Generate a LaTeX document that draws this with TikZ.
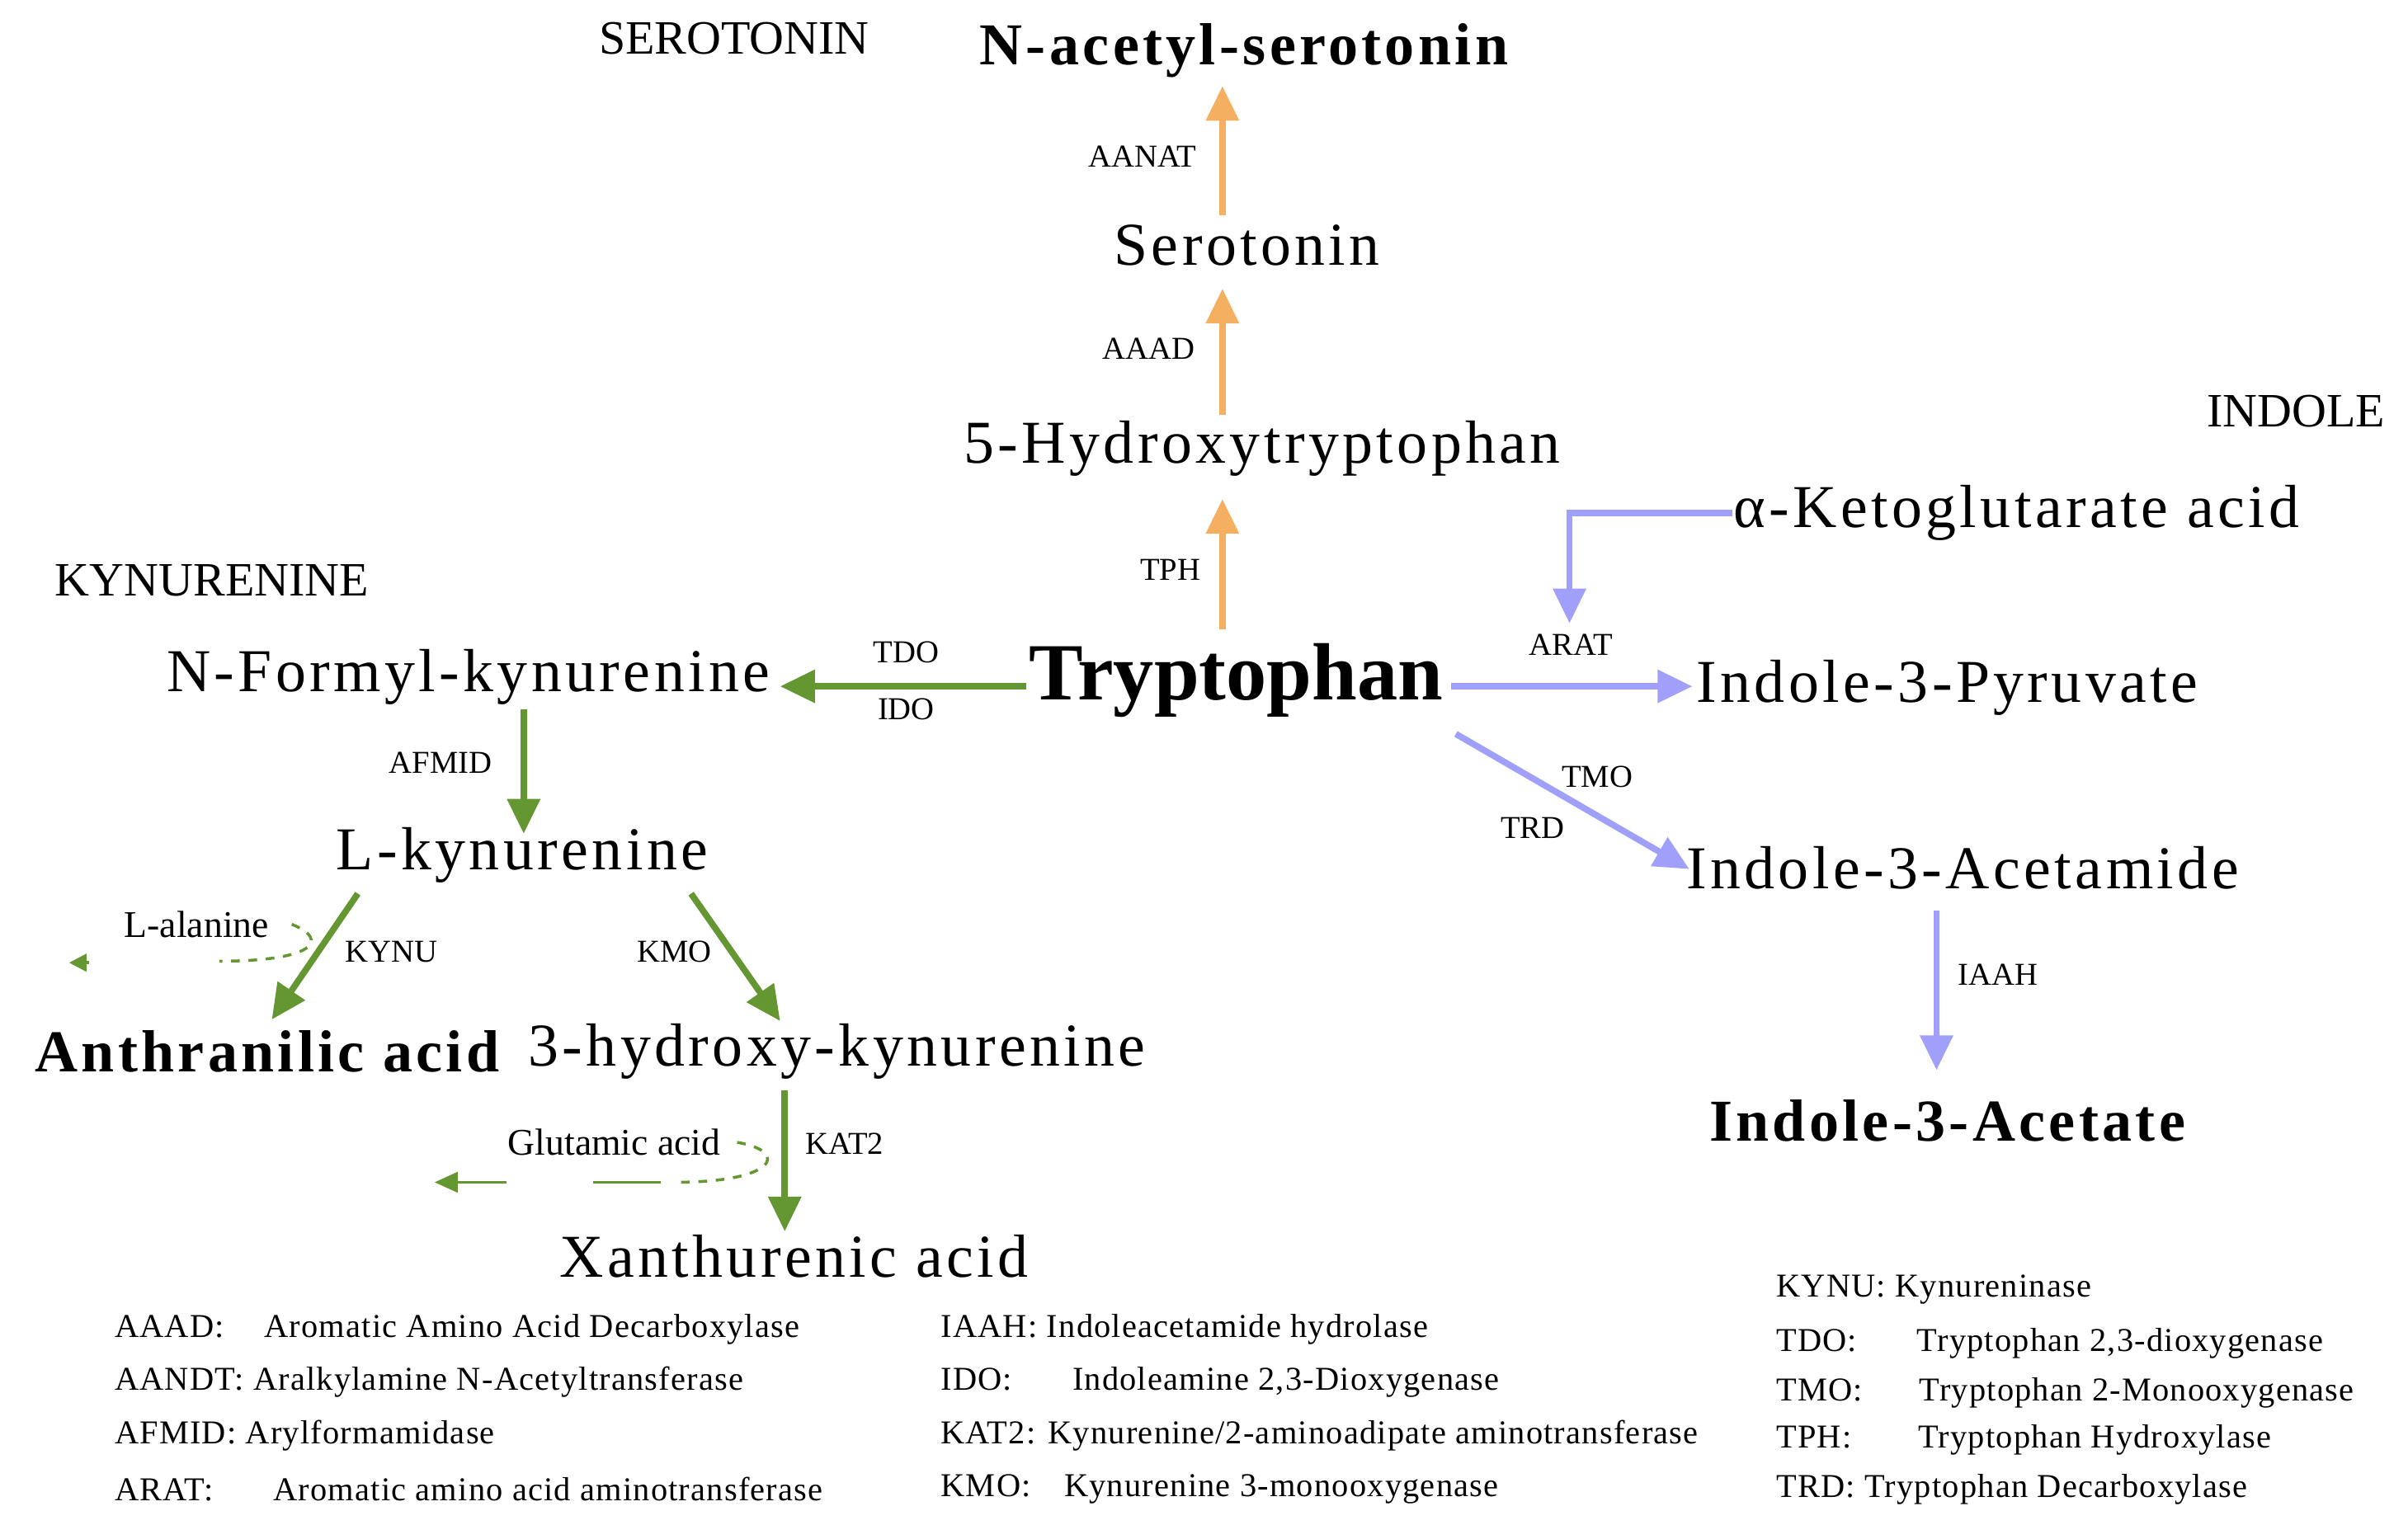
\documentclass[tikz,border=0pt]{standalone}
\usepackage{fontspec}
\setmainfont{Liberation Serif}
\newfontfamily\wide[LetterSpace=6]{Liberation Serif}
\newfontfamily\wideleg[LetterSpace=3]{Liberation Serif}
\usetikzlibrary{arrows.meta}
\definecolor{org}{RGB}{244,176,96}
\definecolor{grn}{RGB}{100,150,50}
\definecolor{blu}{RGB}{160,160,250}
\tikzset{
 big/.style={font=\fontsize{21}{23}\wide},
 bigb/.style={font=\fontsize{20.5}{23}\wide\bfseries},
 hdr/.style={font=\fontsize{16.5}{18}\selectfont},
 lab/.style={font=\fontsize{11}{13}\selectfont},
 leg/.style={font=\fontsize{11.5}{13}\wideleg,anchor=west},
 oa/.style={org,line width=2.2pt,-{Triangle[length=12pt,width=11pt]}},
 ga/.style={grn,line width=2.2pt,-{Triangle[length=12pt,width=11pt]}},
 ba/.style={blu,line width=2.2pt,-{Triangle[length=12pt,width=11pt]}},
 gd/.style={grn,line width=1pt,dashed},
}
\begin{document}
\begin{tikzpicture}[x=0.01862cm,y=-0.01862cm]
\useasboundingbox[fill=white] (0,0) rectangle (1568,993);
% serotonin branch
\node[hdr] (hs) at (478,25) {SEROTONIN};
\node[bigb] (nas) at (810,33) {N-acetyl-serotonin};
\node[big] (ser) at (812,160) {Serotonin};
\node[big] (htp) at (822,292) {5-Hydroxytryptophan};
\node[font=\fontsize{28}{30}\selectfont\bfseries] (trp) at (805,443) {Tryptophan};
\coordinate (o1a) at (796,410); \coordinate (o1b) at (796,325);
\coordinate (o2a) at (796,270); \coordinate (o2b) at (796,188);
\coordinate (o3a) at (796,140); \coordinate (o3b) at (796,56);
\draw[oa] (o1a) -- (o1b);
\draw[oa] (o2a) -- (o2b);
\draw[oa] (o3a) -- (o3b);
\node[lab] (tph) at (762,371) {TPH};
\node[lab] (aaad) at (748,227) {AAAD};
\node[lab] (aanat) at (744,102) {AANAT};
% indole
\node[hdr] (hi) at (1495,268) {INDOLE};
\node[big] (akg) at (1313,334) {α-Ketoglutarate acid};
\coordinate (k1) at (1128,334); \coordinate (k2) at (1022,334); \coordinate (k3) at (1022,406);
\draw[blu,line width=2.2pt,-{Triangle[length=12pt,width=11pt]}] (k1) -- (k2) -- (k3);
\node[lab] (arat) at (1023,420) {ARAT};
\node[big] (i3p) at (1268,448) {Indole-3-Pyruvate};
\coordinate (b1a) at (945,447); \coordinate (b1b) at (1102,447);
\draw[ba] (b1a) -- (b1b);
\coordinate (b2a) at (948,478); \coordinate (b2b) at (1100,566);
\draw[ba] (b2a) -- (b2b);
\node[lab] (tmo) at (1040,506) {TMO};
\node[lab] (trd) at (998,539) {TRD};
\node[big] (i3am) at (1278,565) {Indole-3-Acetamide};
\coordinate (b3a) at (1261,593); \coordinate (b3b) at (1261,697);
\draw[ba] (b3a) -- (b3b);
\node[lab] (iaah) at (1301,635) {IAAH};
\node[bigb] (i3a) at (1268,730) {Indole-3-Acetate};
% kynurenine
\node[hdr] (hk) at (138,378) {KYNURENINE};
\node[big] (nfk) at (305,441) {N-Formyl-kynurenine};
\coordinate (g1a) at (668,447); \coordinate (g1b) at (508,447);
\draw[ga] (g1a) -- (g1b);
\node[lab] (tdo) at (590,425) {TDO};
\node[lab] (ido) at (590,462) {IDO};
\coordinate (g2a) at (341,462); \coordinate (g2b) at (341,543);
\draw[ga] (g2a) -- (g2b);
\node[lab] (afmid) at (287,497) {AFMID};
\node[big] (lk) at (340,557) {L-kynurenine};
\coordinate (g3a) at (233,582); \coordinate (g3b) at (177,664);
\draw[ga] (g3a) -- (g3b);
\node[lab] (kynu) at (255,620) {KYNU};
\coordinate (g4a) at (450,582); \coordinate (g4b) at (508,665);
\draw[ga] (g4a) -- (g4b);
\node[lab] (kmo) at (439,620) {KMO};
\node[bigb] (ant) at (174,685) {Anthranilic acid};
\node[big] (hk3) at (545,685) {3-hydroxy-kynurenine};
\node[font=\fontsize{13}{15}\selectfont] (lal) at (128,602) {L-alanine};
\coordinate (la1) at (190,602); \coordinate (la2) at (143,626);
\draw[gd] (la1) .. controls (215,612) and (205,626) .. (la2);
\coordinate (lh1) at (58,627); \coordinate (lh2) at (45,627);
\draw[grn,line width=1pt,-{Triangle[length=6pt,width=6pt]}] (lh1) -- (lh2);
\coordinate (g5a) at (511,710); \coordinate (g5b) at (511,802);
\draw[ga] (g5a) -- (g5b);
\node[lab] (kat2) at (550,745) {KAT2};
\node[font=\fontsize{13}{15}\selectfont] (glu) at (400,744) {Glutamic acid};
\coordinate (gu1) at (480,744); \coordinate (gu2) at (440,770);
\draw[gd] (gu1) .. controls (515,750) and (505,770) .. (gu2);
\coordinate (gu3) at (430,770); \coordinate (gu4) at (386,770);
\draw[grn,line width=1pt] (gu3) -- (gu4);
\coordinate (gh1) at (330,770); \coordinate (gh2) at (283,770);
\draw[grn,line width=1pt,-{Triangle[length=8pt,width=7pt]}] (gh1) -- (gh2);
\node[big] (xa) at (517,818) {Xanthurenic acid};
% legend
\node[leg] (l1) at (68,866) {AAAD:\hspace{1.2em}Aromatic Amino Acid Decarboxylase};
\node[leg] (l2) at (68,900) {AANDT: Aralkylamine N-Acetyltransferase};
\node[leg] (l3) at (68,935) {AFMID: Arylformamidase};
\node[leg] (l4) at (68,970) {ARAT:\hspace{1.8em}Aromatic amino acid aminotransferase};
\node[leg] (l5) at (606,866) {IAAH: Indoleacetamide hydrolase};
\node[leg] (l6) at (606,900) {IDO:\hspace{1.8em}Indoleamine 2,3-Dioxygenase};
\node[leg] (l7) at (606,935) {KAT2: Kynurenine/2-aminoadipate aminotransferase};
\node[leg] (l8) at (606,970) {KMO:\hspace{1em}Kynurenine 3-monooxygenase};
\node[leg] (l9) at (1150,840) {KYNU: Kynureninase};
\node[leg] (l10) at (1150,875) {TDO:\hspace{1.8em}Tryptophan 2,3-dioxygenase};
\node[leg] (l11) at (1150,907) {TMO:\hspace{1.7em}Tryptophan 2-Monooxygenase};
\node[leg] (l12) at (1150,938) {TPH:\hspace{2em}Tryptophan Hydroxylase};
\node[leg] (l13) at (1150,970) {TRD: Tryptophan Decarboxylase};
\end{tikzpicture}
\end{document}
